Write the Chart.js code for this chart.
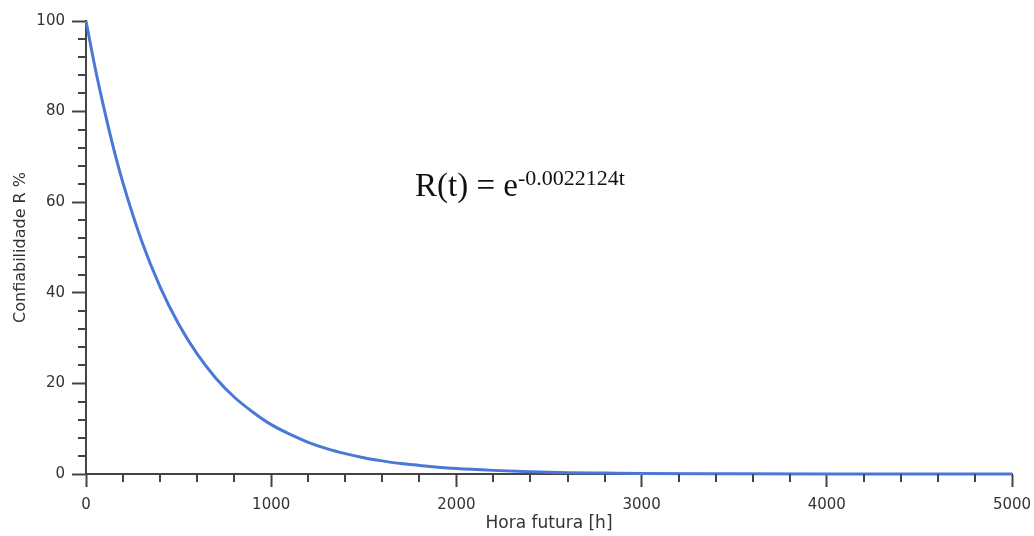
<!DOCTYPE html>
<html>
<head>
<meta charset="utf-8">
<script src="https://cdn.jsdelivr.net/npm/chart.js@4"></script>
<style>
  html, body { margin: 0; padding: 0; background: #fff; }
  #wrap { width: 1034px; height: 536px; }
</style>
</head>
<body>
<div id="wrap"><canvas id="chart"></canvas></div>
<script>
// values (hours vs reliability %)
var hours = [0, 50, 100, 150, 200, 300, 400, 500, 600, 700, 800, 900, 1000, 1100, 1200, 1300, 1400,
  1500, 1600, 1700, 1800, 1900, 2000, 2200, 2400, 2600, 2800, 3000, 3500, 4000, 4500, 5000];
var reliability = [100, 89.5, 80.2, 71.7, 64.2, 51.5, 41.3, 33.1, 26.5, 21.2, 17.0, 13.7, 10.9, 8.8, 7.0, 5.6, 4.5,
  3.6, 2.9, 2.3, 1.9, 1.5, 1.2, 0.8, 0.5, 0.3, 0.2, 0.1, 0.04, 0.01, 0, 0];

var xTicks = [0, 1000, 2000, 3000, 4000, 5000];
var yTicks = [0, 20, 40, 60, 80, 100];
var xMinorStep = 200;
var yMinorStep = 4;

var textColor = '#333';
var axisColor = '#444';
var lineColor = '#4a78d6';

var points = hours.map(function (h, i) {
  return { x: h, y: reliability[i] };
});

// minor ticks + equation text
var extras = {
  id: 'extras',
  afterDraw: function (chart) {
    var ctx = chart.ctx;
    var xs = chart.scales.x;
    var ys = chart.scales.y;
    ctx.save();
    ctx.strokeStyle = axisColor;
    ctx.lineWidth = 2;
    ctx.beginPath();
    for (var v = 0; v <= 5000; v += xMinorStep) {
      if (v % 1000 === 0) continue;
      var px = Math.round(xs.getPixelForValue(v));
      ctx.moveTo(px, ys.bottom);
      ctx.lineTo(px, ys.bottom + 8);
    }
    for (var w = 0; w <= 100; w += yMinorStep) {
      if (w % 20 === 0) continue;
      var py = Math.round(ys.getPixelForValue(w));
      ctx.moveTo(xs.left, py);
      ctx.lineTo(xs.left - 8, py);
    }
    ctx.stroke();

    var ex = 415;
    var ey = 196;
    ctx.fillStyle = '#111';
    ctx.textBaseline = 'alphabetic';
    ctx.textAlign = 'left';
    ctx.font = '33px "Liberation Serif", serif';
    var base = 'R(t) = e';
    ctx.fillText(base, ex, ey);
    var bw = ctx.measureText(base).width;
    ctx.font = '22px "Liberation Serif", serif';
    ctx.fillText('-0.0022124t', ex + bw, ey - 11);
    ctx.restore();
  }
};

var chart = new Chart('chart', {
  type: 'line',
  data: {
    datasets: [
      {
        data: points,
        borderColor: lineColor,
        borderWidth: 3,
        pointRadius: 0,
        fill: false,
        cubicInterpolationMode: 'monotone',
        clip: false
      }
    ]
  },
  options: {
    responsive: true,
    maintainAspectRatio: false,
    animation: false,
    layout: { padding: { top: 21, right: 22, left: 0, bottom: 0 } },
    plugins: {
      legend: { display: false },
      tooltip: { enabled: false }
    },
    scales: {
      x: {
        type: 'linear',
        min: 0,
        max: 5000,
        afterFit: function (s) {
          s.height = 62;
          s.paddingLeft = 0;
          s.paddingRight = 0;
        },
        afterBuildTicks: function (s) {
          s.ticks = xTicks.map(function (v) { return { value: v }; });
        },
        grid: {
          drawOnChartArea: false,
          drawTicks: true,
          tickLength: 13,
          tickWidth: 2,
          tickColor: axisColor
        },
        border: { display: true, color: axisColor, width: 2 },
        ticks: {
          color: textColor,
          padding: 9,
          maxRotation: 0,
          callback: function (v) { return String(v); },
          font: { family: '"DejaVu Sans", sans-serif', size: 15 }
        },
        title: {
          display: true,
          text: 'Hora futura [h]',
          color: textColor,
          padding: { top: 0, bottom: 2 },
          font: { family: '"DejaVu Sans", sans-serif', size: 17 }
        }
      },
      y: {
        min: 0,
        max: 100,
        afterFit: function (s) { s.width = 86; },
        afterBuildTicks: function (s) {
          s.ticks = yTicks.map(function (v) { return { value: v }; });
        },
        grid: {
          drawOnChartArea: false,
          drawTicks: true,
          tickLength: 14,
          tickWidth: 2,
          tickColor: axisColor
        },
        border: { display: true, color: axisColor, width: 2 },
        ticks: {
          color: textColor,
          padding: 7,
          font: { family: '"DejaVu Sans", sans-serif', size: 15 }
        },
        title: {
          display: true,
          text: 'Confiabilidade R %',
          color: textColor,
          padding: { top: 11, bottom: 0 },
          font: { family: '"DejaVu Sans", sans-serif', size: 16 }
        }
      }
    }
  },
  plugins: [extras]
});
</script>
</body>
</html>
